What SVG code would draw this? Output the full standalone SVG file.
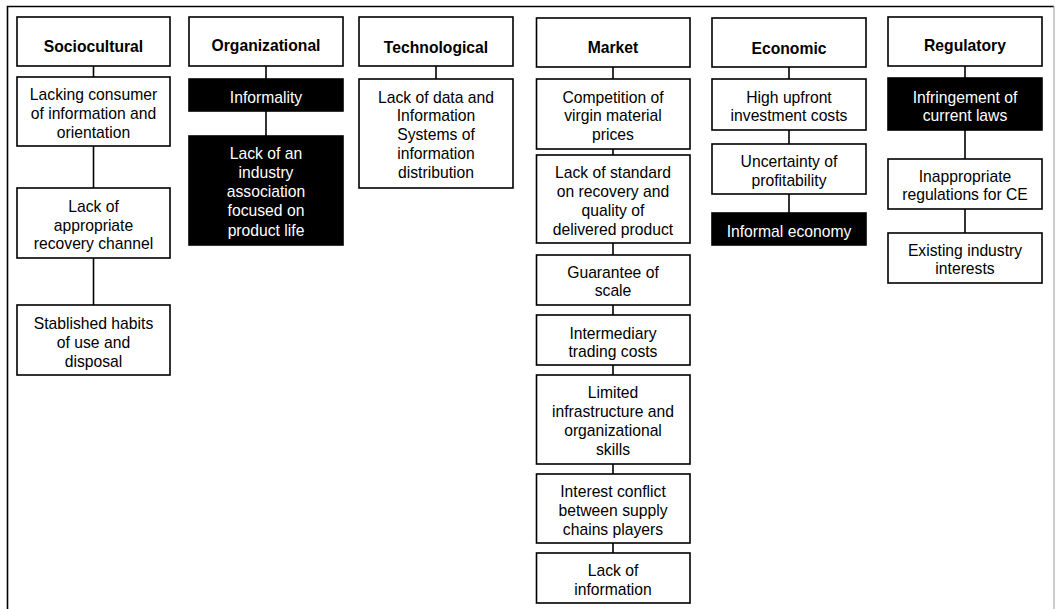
<svg xmlns="http://www.w3.org/2000/svg" width="1055" height="609" viewBox="0 0 1055 609">
<style>
.b{fill:#fff;stroke:#000;stroke-width:1.6}
.k{fill:#000;stroke:#000;stroke-width:1.6}
text{font-family:"Liberation Sans",Arial,sans-serif;font-size:15.7px;text-anchor:middle;fill:#000}
.h{font-weight:bold}
.w{fill:#fff}
.c line{stroke:#000;stroke-width:1.6}
</style>
<rect width="1055" height="609" fill="#fff"/>
<path d="M7.5,609 V6.5 H1054" fill="none" stroke="#000" stroke-width="1.6"/>
<line x1="1054" y1="6" x2="1054" y2="609" stroke="#aaa" stroke-width="1.2"/>
<g class="c" id="connectors">
<line x1="93.5" y1="66" x2="93.5" y2="77"/>
<line x1="93.5" y1="146" x2="93.5" y2="188"/>
<line x1="93.5" y1="258" x2="93.5" y2="305"/>
<line x1="266" y1="66" x2="266" y2="79"/>
<line x1="266" y1="111" x2="266" y2="136"/>
<line x1="436" y1="66" x2="436" y2="79"/>
<line x1="613" y1="67" x2="613" y2="79"/>
<line x1="613" y1="149" x2="613" y2="155"/>
<line x1="613" y1="243" x2="613" y2="255"/>
<line x1="613" y1="305" x2="613" y2="315"/>
<line x1="613" y1="365" x2="613" y2="375"/>
<line x1="613" y1="464" x2="613" y2="474"/>
<line x1="613" y1="543" x2="613" y2="553"/>
<line x1="789" y1="67" x2="789" y2="79"/>
<line x1="789" y1="130" x2="789" y2="144"/>
<line x1="789" y1="194" x2="789" y2="213"/>
<line x1="965" y1="66" x2="965" y2="78"/>
<line x1="965" y1="130" x2="965" y2="159"/>
<line x1="965" y1="209" x2="965" y2="233"/>
</g>
<g id="sociocultural"><rect class="b" x="17" y="17" width="153" height="49"/><text class="h" x="93.5" y="51.5">Sociocultural</text></g>
<g id="soc1"><rect class="b" x="17" y="77" width="153" height="69"/><text x="93.5" y="99.5">Lacking consumer</text><text x="93.5" y="118.5">of information and</text><text x="93.5" y="137.5">orientation</text></g>
<g id="soc2"><rect class="b" x="17" y="188" width="153" height="70"/><text x="93.5" y="211.5">Lack of</text><text x="93.5" y="230.5">appropriate</text><text x="93.5" y="248.5">recovery channel</text></g>
<g id="soc3"><rect class="b" x="17" y="305" width="153" height="70"/><text x="93.5" y="328.5">Stablished habits</text><text x="93.5" y="347.5">of use and</text><text x="93.5" y="366.5">disposal</text></g>
<g id="organizational"><rect class="b" x="189" y="17" width="154" height="49"/><text class="h" x="266" y="50.5">Organizational</text></g>
<g id="org1"><rect class="k" x="189" y="79" width="154" height="32"/><text class="w" x="266" y="102.5">Informality</text></g>
<g id="org2"><rect class="k" x="189" y="136" width="154" height="109"/><text class="w" x="266" y="158.5">Lack of an</text><text class="w" x="266" y="177.5">industry</text><text class="w" x="266" y="197">association</text><text class="w" x="266" y="216">focused on</text><text class="w" x="266" y="235.5">product life</text></g>
<g id="technological"><rect class="b" x="359" y="17" width="154" height="49"/><text class="h" x="436" y="52.5">Technological</text></g>
<g id="tech1"><rect class="b" x="359" y="79" width="154" height="109"/><text x="436" y="102.5">Lack of data and</text><text x="436" y="120.5">Information</text><text x="436" y="139.5">Systems of</text><text x="436" y="158.5">information</text><text x="436" y="177.5">distribution</text></g>
<g id="market"><rect class="b" x="536.5" y="18" width="153.5" height="49"/><text class="h" x="613" y="52.5">Market</text></g>
<g id="mkt1"><rect class="b" x="536.5" y="79" width="153.5" height="70"/><text x="613" y="102.5">Competition of</text><text x="613" y="120.5">virgin material</text><text x="613" y="139.5">prices</text></g>
<g id="mkt2"><rect class="b" x="536.5" y="155" width="153.5" height="88"/><text x="613" y="177.5">Lack of standard</text><text x="613" y="196.5">on recovery and</text><text x="613" y="216">quality of</text><text x="613" y="234.5">delivered product</text></g>
<g id="mkt3"><rect class="b" x="536.5" y="255" width="153.5" height="50"/><text x="613" y="277.5">Guarantee of</text><text x="613" y="295.5">scale</text></g>
<g id="mkt4"><rect class="b" x="536.5" y="315" width="153.5" height="50"/><text x="613" y="338.5">Intermediary</text><text x="613" y="356.5">trading costs</text></g>
<g id="mkt5"><rect class="b" x="536.5" y="375" width="153.5" height="89"/><text x="613" y="397.5">Limited</text><text x="613" y="416.5">infrastructure and</text><text x="613" y="436">organizational</text><text x="613" y="454.5">skills</text></g>
<g id="mkt6"><rect class="b" x="536.5" y="474" width="153.5" height="69"/><text x="613" y="496.5">Interest conflict</text><text x="613" y="515.5">between supply</text><text x="613" y="534.5">chains players</text></g>
<g id="mkt7"><rect class="b" x="536.5" y="553" width="153.5" height="50"/><text x="613" y="575.5">Lack of</text><text x="613" y="594.5">information</text></g>
<g id="economic"><rect class="b" x="712" y="18" width="154" height="49"/><text class="h" x="789" y="53.5">Economic</text></g>
<g id="eco1"><rect class="b" x="712" y="79" width="154" height="51"/><text x="789" y="102.5">High upfront</text><text x="789" y="120.5">investment costs</text></g>
<g id="eco2"><rect class="b" x="712" y="144" width="154" height="50"/><text x="789" y="166.5">Uncertainty of</text><text x="789" y="185.5">profitability</text></g>
<g id="eco3"><rect class="k" x="712" y="213" width="154" height="32"/><text class="w" x="789" y="236.5">Informal economy</text></g>
<g id="regulatory"><rect class="b" x="888" y="17" width="154" height="49"/><text class="h" x="965" y="50.5">Regulatory</text></g>
<g id="reg1"><rect class="k" x="888" y="78" width="154" height="52"/><text class="w" x="965" y="102.5">Infringement of</text><text class="w" x="965" y="120.5">current laws</text></g>
<g id="reg2"><rect class="b" x="888" y="159" width="154" height="50"/><text x="965" y="181.5">Inappropriate</text><text x="965" y="199.5">regulations for CE</text></g>
<g id="reg3"><rect class="b" x="888" y="233" width="154" height="50"/><text x="965" y="255.5">Existing industry</text><text x="965" y="273.5">interests</text></g>
</svg>
